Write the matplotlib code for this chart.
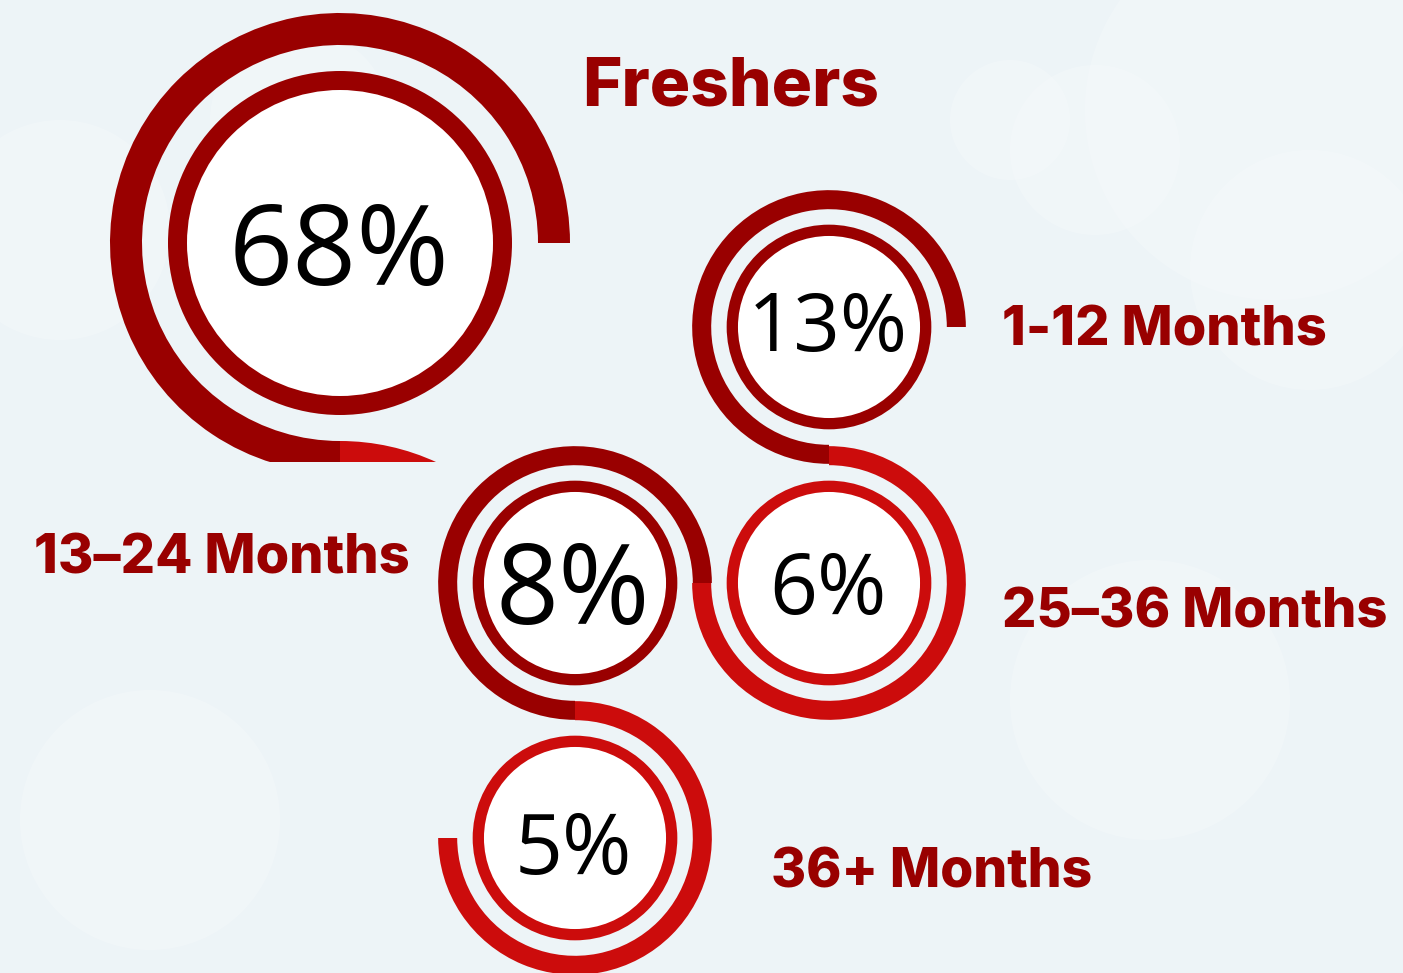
import matplotlib.pyplot as plt
from matplotlib.patches import Wedge, Circle, Rectangle

# data
percent_labels = ['68%', '13%', '8%', '6%', '5%']
categories = ['Freshers', '1-12 Months', '13–24 Months', '25–36 Months', '36+ Months']

W, H = 1403, 973
DARK = '#990000'
RED = '#CC0C0C'
BG = '#EDF4F7'

# layout (pixel coords, y measured from top)
centers = [(340, 243), (829, 327), (575, 583), (829, 583), (575, 838)]
scales = [1.0, 0.595, 0.595, 0.595, 0.595]
ring_colors = [DARK, DARK, DARK, RED, RED]
arc_spans = [(0, 270), (0, 270), (0, 270), (180, 450), (180, 450)]
pct_sizes = [80.7, 58.5, 79.6, 60.5, 60.5]
pct_base = [285, 351, 624, 614, 874]
pct_x = [339, 828, 573, 828, 573]
label_pos = [(582, 106, 'left', 48.5), (1002, 345, 'left', 39), (410, 574, 'right', 39),
             (1002, 628, 'left', 39), (771, 887, 'left', 38.5)]

fig = plt.figure(figsize=(W / 100, H / 100), dpi=100)
fig.patch.set_facecolor(BG)
ax = fig.add_axes([0, 0, 1, 1])
ax.set_xlim(0, W)
ax.set_ylim(0, H)
ax.set_aspect('equal')
ax.axis('off')
ax.set_facecolor(BG)

def Y(y):
    return H - y

# faint bokeh background
for (bx, by, br) in [(1275, 110, 190), (1095, 150, 85), (1010, 120, 60), (1310, 270, 120),
                     (150, 820, 130), (60, 230, 110), (1150, 700, 140), (300, 120, 90)]:
    ax.add_patch(Circle((bx, Y(by)), br, color='white', alpha=0.2, lw=0, zorder=0))

clip = Rectangle((0, Y(462)), W, 462, transform=ax.transData, visible=False)
ax.add_patch(clip)

for i, (cx, cy) in enumerate(centers):
    s = scales[i]
    c = (cx, Y(cy))
    r_out, w_out = 230 * s, 32 * s
    r_ring, r_white = 172 * s, 153 * s
    t1, t2 = arc_spans[i]
    wd = Wedge(c, r_out, t1, t2, width=w_out, color=ring_colors[i], lw=0, zorder=2)
    ax.add_patch(wd)
    ax.add_patch(Circle(c, r_ring, color=ring_colors[i], lw=0, zorder=2))
    ax.add_patch(Circle(c, r_white, color='white', lw=0, zorder=3))
    if i == 0:
        wd.set_clip_path(clip)
        # red tail leading to the next (cropped) circle
        tail = Wedge((cx, Y(cy + 2 * (r_out - w_out / 2))), r_out, 40, 90, width=w_out,
                     color=RED, lw=0, zorder=2)
        ax.add_patch(tail)
        tail.set_clip_path(clip)
    ax.text(pct_x[i], Y(pct_base[i]), percent_labels[i], fontsize=pct_sizes[i],
            family='Open Sans', color='black', ha='center', va='baseline', zorder=4)

for lab, (lx, ly, ha, sz) in zip(categories, label_pos):
    ax.text(lx, Y(ly), lab, fontsize=sz, family='Inter', fontweight=800,
            color=DARK, ha=ha, va='baseline', zorder=4)

fig.savefig('out.png', dpi=100, facecolor=BG)
